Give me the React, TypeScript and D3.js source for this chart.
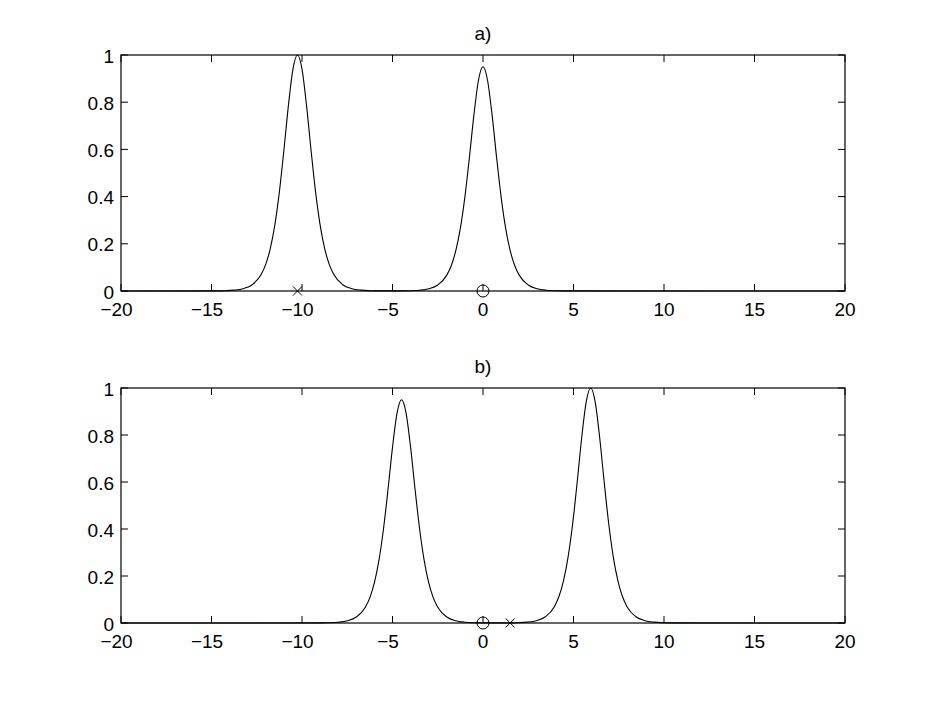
import React from "react";
import * as d3 from "d3";

// ---- Data ----
const xTicks = [-20, -15, -10, -5, 0, 5, 10, 15, 20];
const yTicks = [0, 0.2, 0.4, 0.6, 0.8, 1];
const yTickLabels = ["0", "0.2", "0.4", "0.6", "0.8", "1"];

// Panel a) curve
const xA = [
  -20, -14.75, -14.25, -13.75, -13.25, -12.75, -12.25, -12, -11.75, -11.5, -11.25, -11, -10.75, -10.5, -10.25,
  -10, -9.75, -9.5, -9.25, -9, -8.75, -8.5, -8.25, -7.75, -7.25, -6.75, -6.25, -5.75,
  -4.5, -4, -3.5, -3, -2.5, -2, -1.75, -1.5, -1.25, -1, -0.75, -0.5, -0.25, 0,
  0.25, 0.5, 0.75, 1, 1.25, 1.5, 1.75, 2, 2.5, 3, 3.5, 4, 4.5, 20,
];
const yA = [
  0, 0.0005, 0.0013, 0.0036, 0.0099, 0.0266, 0.0707, 0.1138, 0.1807, 0.2804, 0.42, 0.5966, 0.7864, 0.94, 1,
  0.94, 0.7864, 0.5966, 0.42, 0.2804, 0.1807, 0.1138, 0.0707, 0.0266, 0.0099, 0.0036, 0.0013, 0.0005,
  0.0005, 0.0012, 0.0034, 0.0094, 0.0253, 0.0672, 0.1081, 0.1717, 0.2664, 0.399, 0.5668, 0.7471, 0.893, 0.95,
  0.893, 0.7471, 0.5668, 0.399, 0.2664, 0.1717, 0.1081, 0.0672, 0.0253, 0.0094, 0.0034, 0.0012, 0.0005, 0,
];

// Panel b) curve
const xB = [
  -20, -9, -8.5, -8, -7.5, -7, -6.5, -6.25, -6, -5.75, -5.5, -5.25, -5, -4.75, -4.5,
  -4.25, -4, -3.75, -3.5, -3.25, -3, -2.75, -2.5, -2, -1.5, -1, -0.5, 0,
  1.45, 1.95, 2.45, 2.95, 3.45, 3.95, 4.2, 4.45, 4.7, 4.95, 5.2, 5.45, 5.7, 5.95,
  6.2, 6.45, 6.7, 6.95, 7.2, 7.45, 7.7, 7.95, 8.45, 8.95, 9.45, 9.95, 10.45, 20,
];
const yB = [
  0, 0.0005, 0.0012, 0.0034, 0.0094, 0.0253, 0.0672, 0.1081, 0.1717, 0.2664, 0.399, 0.5668, 0.7471, 0.893, 0.95,
  0.893, 0.7471, 0.5668, 0.399, 0.2664, 0.1717, 0.1081, 0.0672, 0.0253, 0.0094, 0.0034, 0.0012, 0.0005,
  0.0005, 0.0013, 0.0036, 0.0099, 0.0266, 0.0707, 0.1138, 0.1807, 0.2804, 0.42, 0.5966, 0.7864, 0.94, 1,
  0.94, 0.7864, 0.5966, 0.42, 0.2804, 0.1807, 0.1138, 0.0707, 0.0266, 0.0099, 0.0036, 0.0013, 0.0005, 0,
];

// Markers
const crossA = [-10.25];
const circleA = [0];
const crossB = [1.5];
const circleB = [0];

const titles = ["a)", "b)"];

const W = 933;
const H = 702;
const left = 121;
const right = 845;
const panels = [
  { top: 55, bottom: 291, xs: xA, ys: yA, crosses: crossA, circles: circleA, title: titles[0] },
  { top: 388, bottom: 623, xs: xB, ys: yB, crosses: crossB, circles: circleB, title: titles[1] },
];

const font = "Helvetica, Arial, 'Liberation Sans', sans-serif";
const fs = 19;
const fmtX = (v: number) => (v < 0 ? "\u2212" + Math.abs(v) : String(v));

function Panel({ p }: { p: (typeof panels)[number] }) {
  const x = d3.scaleLinear().domain([-20, 20]).range([left, right]);
  const y = d3.scaleLinear().domain([0, 1]).range([p.bottom, p.top]);
  const pts = p.xs.map((v, i) => [v, p.ys[i]] as [number, number]);
  const line = d3
    .line<[number, number]>()
    .x((d) => x(d[0]))
    .y((d) => y(d[1]))
    .curve(d3.curveMonotoneX);
  const tl = 7;
  return (
    <g>
      <rect x={left} y={p.top} width={right - left} height={p.bottom - p.top} fill="#fff" />
      <path d={line(pts) || ""} fill="none" stroke="#000" strokeWidth={1.1} />
      {xTicks.map((t) => (
        <g key={"xt" + t}>
          <line x1={x(t)} x2={x(t)} y1={p.bottom} y2={p.bottom - tl} stroke="#000" />
          <line x1={x(t)} x2={x(t)} y1={p.top} y2={p.top + tl} stroke="#000" />
          <text
            x={x(t) + (t < 0 ? -4.5 : 0)}
            y={p.bottom + 25}
            textAnchor="middle"
            fontSize={fs}
            fontFamily={font}
          >
            {fmtX(t)}
          </text>
        </g>
      ))}
      {yTicks.map((t, i) => (
        <g key={"yt" + t}>
          <line x1={left} x2={left + tl} y1={y(t)} y2={y(t)} stroke="#000" />
          <line x1={right} x2={right - tl} y1={y(t)} y2={y(t)} stroke="#000" />
          <text x={left - 7} y={y(t) + 7.5} textAnchor="end" fontSize={fs} fontFamily={font}>
            {yTickLabels[i]}
          </text>
        </g>
      ))}
      <rect
        x={left}
        y={p.top}
        width={right - left}
        height={p.bottom - p.top}
        fill="none"
        stroke="#000"
        strokeWidth={1.2}
      />
      {p.crosses.map((c, i) => (
        <g key={"c" + i}>
          <line x1={x(c) - 4.5} x2={x(c) + 4.5} y1={y(0) - 4.5} y2={y(0) + 4.5} stroke="#000" />
          <line x1={x(c) - 4.5} x2={x(c) + 4.5} y1={y(0) + 4.5} y2={y(0) - 4.5} stroke="#000" />
        </g>
      ))}
      {p.circles.map((c, i) => (
        <circle key={"o" + i} cx={x(c)} cy={y(0)} r={6} fill="none" stroke="#000" />
      ))}
      <text x={(left + right) / 2} y={p.top - 15} textAnchor="middle" fontSize={fs} fontFamily={font}>
        {p.title}
      </text>
    </g>
  );
}

export default function App() {
  return (
    <svg
      width={W}
      height={H}
      viewBox={`0 0 ${W} ${H}`}
      style={{ position: "absolute", left: 0, top: 0, background: "#fff" }}
    >
      <rect width={W} height={H} fill="#fff" />
      {panels.map((p, i) => (
        <Panel key={i} p={p} />
      ))}
    </svg>
  );
}
